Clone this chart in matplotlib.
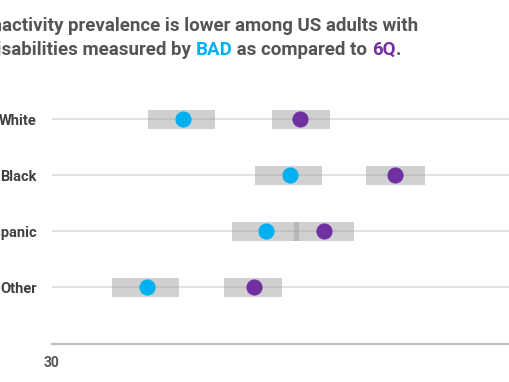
import matplotlib
matplotlib.use('Agg')
import matplotlib.pyplot as plt
from matplotlib.patches import Rectangle

plt.rcParams['font.family'] = ['Roboto', 'DejaVu Sans']

groups = ['White', 'Black', 'Hispanic', 'Other']
bad_est = [35.45, 39.9, 38.9, 33.95]
bad_lo = [34.0, 38.45, 37.5, 32.5]
bad_hi = [36.8, 41.25, 40.3, 35.3]
q6_est = [40.35, 44.3, 41.35, 38.4]
q6_lo = [39.15, 43.1, 40.1, 37.15]
q6_hi = [41.6, 45.55, 42.6, 39.6]
xticks = [30]

BAD_COLOR = '#00b0f0'
Q6_COLOR = '#7030a0'
TEXT = '#555555'

fig = plt.figure(figsize=(5.1, 3.82), dpi=100, facecolor='white')
ax = fig.add_axes([52 / 510, 1 - 343.5 / 382, 480 / 510, 280.5 / 382])
ax.set_xlim(30, 50)
ax.set_ylim(5, 0)

rows = list(range(1, len(groups) + 1))
ax.hlines(rows, 30, 50, color='#dadada', linewidth=1.1, zorder=1)

for y, lo, hi in zip(rows, bad_lo, bad_hi):
    ax.add_patch(Rectangle((lo, y - 0.17), hi - lo, 0.34, facecolor='#a2a2a2',
                           alpha=0.5, edgecolor='none', zorder=2))
for y, lo, hi in zip(rows, q6_lo, q6_hi):
    ax.add_patch(Rectangle((lo, y - 0.17), hi - lo, 0.34, facecolor='#a2a2a2',
                           alpha=0.5, edgecolor='none', zorder=2))

ax.scatter(bad_est, rows, s=135, color=BAD_COLOR, zorder=3, linewidths=0)
ax.scatter(q6_est, rows, s=135, color=Q6_COLOR, zorder=3, linewidths=0)

for s in ['top', 'right', 'left']:
    ax.spines[s].set_visible(False)
ax.spines['bottom'].set_color('#bfbfbf')
ax.spines['bottom'].set_linewidth(1.6)

ax.set_yticks(rows)
ax.set_yticklabels(groups, fontsize=10.5, fontweight='bold', color='#404040')
ax.set_xticks(xticks)
ax.set_xticklabels([str(t) for t in xticks], fontsize=10, fontweight='bold', color=TEXT)
ax.tick_params(axis='y', length=0, pad=11)
ax.tick_params(axis='x', length=0, pad=9)

# title, two lines, cut off on the left like the original
renderer = fig.canvas.get_renderer()
x0 = -14 / 510
tkw = dict(fontsize=13.5, fontweight='bold', va='baseline', ha='left')
fig.text(x0, 1 - 31 / 382, 'Inactivity prevalence is lower among US adults with',
         color=TEXT, **tkw)

def text_width(s):
    t = fig.text(0, 0, s + '|', **tkw)
    w1 = t.get_window_extent(renderer).width
    t.remove()
    t = fig.text(0, 0, '|', **tkw)
    w2 = t.get_window_extent(renderer).width
    t.remove()
    return (w1 - w2) / fig.bbox.width

parts = [('disabilities measured by ', TEXT), ('BAD', BAD_COLOR),
         (' as compared to ', TEXT), ('6Q', Q6_COLOR), ('.', TEXT)]
x = x0
for s, c in parts:
    fig.text(x, 1 - 55 / 382, s, color=c, **tkw)
    x += text_width(s)

fig.savefig('out.png', dpi=100, facecolor='white')
